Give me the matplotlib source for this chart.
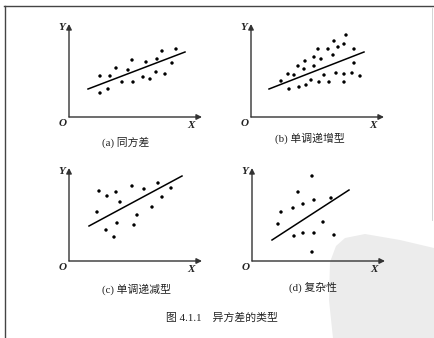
import matplotlib
matplotlib.use("Agg")
import matplotlib.pyplot as plt
from matplotlib.patches import Polygon
from matplotlib.lines import Line2D

# values (unit = 10 px, origin at the axes corner)
a_x = [3.1, 4.1, 4.7, 5.9, 6.3, 5.3, 6.4, 7.4, 7.7, 8.1, 8.7, 8.8, 9.3, 9.6, 10.3, 10.7, 3.1, 3.9]
a_y = [4.1, 4.1, 4.9, 4.7, 5.7, 3.5, 3.5, 4.0, 5.5, 3.8, 4.5, 5.8, 6.6, 4.3, 5.4, 6.8, 2.4, 2.8]
a_line_x = [1.9, 11.6]
a_line_y = [2.8, 6.5]

b_x = [3.0, 3.7, 4.3, 3.8, 4.8, 4.7, 5.3, 5.4, 5.5, 6.0, 6.3, 6.3, 6.8, 6.7, 7.0,
       7.3, 7.7, 7.8, 8.2, 8.3, 8.5, 8.7, 9.3, 9.3, 9.3, 9.5, 10.1, 10.3, 10.3, 10.9]
b_y = [3.6, 4.3, 4.2, 2.8, 3.0, 5.1, 4.8, 5.6, 3.2, 3.7, 6.0, 5.1, 3.5, 6.8, 5.8,
       4.2, 6.8, 3.5, 6.2, 7.6, 4.4, 7.0, 7.3, 4.3, 3.5, 8.2, 4.4, 5.4, 6.8, 4.1]
b_line_x = [1.8, 11.3]
b_line_y = [2.8, 6.5]

c_x = [3.0, 3.8, 4.7, 5.1, 6.3, 7.5, 8.9, 10.2, 9.3, 8.3, 6.8, 2.8, 4.8, 3.7, 6.5, 4.5]
c_y = [7.0, 6.5, 6.9, 5.9, 7.5, 7.2, 7.8, 7.3, 6.4, 5.4, 4.6, 4.9, 3.8, 3.1, 3.6, 2.4]
c_line_x = [2.0, 11.3]
c_line_y = [3.5, 8.5]

d_x = [6.0, 4.6, 2.9, 4.1, 5.1, 6.2, 7.9, 2.6, 7.1, 4.2, 5.1, 6.2, 8.2, 6.0]
d_y = [8.5, 6.9, 4.9, 5.3, 5.7, 6.1, 6.3, 3.7, 3.9, 2.5, 2.8, 2.8, 2.6, 0.9]
d_line_x = [2.0, 9.7]
d_line_y = [2.1, 7.1]

captions = ["(a) 同方差", "(b) 单调递增型", "(c) 单调递减型", "(d) 复杂性"]
title = "图 4.1.1    异方差的类型"

W, H = 434, 338
fig = plt.figure(figsize=(W / 100, H / 100), dpi=100)
fig.patch.set_facecolor("white")

serif_cjk = ["Liberation Serif", "Noto Sans CJK SC"]

# scanned-page watermark and frame
wm = Polygon([(345 / W, 1 - 238 / H), (365 / W, 1 - 234 / H), (400 / W, 1 - 240 / H),
              (1, 1 - 248 / H), (1, 0), (333 / W, 0), (329 / W, 1 - 300 / H),
              (330 / W, 1 - 262 / H), (336 / W, 1 - 246 / H)],
             closed=True, transform=fig.transFigure, facecolor="#ececec",
             edgecolor="none", zorder=-5)
fig.add_artist(wm)
fig.add_artist(Line2D([4 / W, 1], [1 - 6 / H, 1 - 6 / H], transform=fig.transFigure,
                      color="#444444", lw=1.0))
fig.add_artist(Line2D([5 / W, 5 / W], [0, 1 - 6 / H], transform=fig.transFigure,
                      color="#444444", lw=1.0))
fig.add_artist(Line2D([432 / W, 432 / W], [0.35, 1 - 8 / H], transform=fig.transFigure,
                      color="#cccccc", lw=0.6))


def panel(ox, oy, xs, ys, lx, ly):
    # axes placed so that data (0, 0) lands on pixel (ox, oy) measured from the top
    left = (ox - 20) / W
    bottom = (H - oy - 20) / H
    ax = fig.add_axes([left, bottom, 170 / W, 120 / H])
    ax.set_xlim(-2, 15)
    ax.set_ylim(-2, 10)
    ax.axis("off")
    ax.patch.set_alpha(0)
    arrow = dict(arrowstyle="-|>", mutation_scale=8, lw=1.0, color="#333333",
                 shrinkA=0, shrinkB=0)
    ax.annotate("", xy=(13.3, 0), xytext=(0, 0), arrowprops=arrow)
    ax.annotate("", xy=(0, 9.3), xytext=(0, 0), arrowprops=arrow)
    lab = dict(fontsize=8, family="Liberation Serif", style="italic",
               weight="bold", ha="center", va="center", color="#222222")
    ax.text(-0.7, 9.0, "Y", **lab)
    ax.text(-0.6, -0.7, "O", **lab)
    ax.text(12.2, -0.8, "X", **lab)
    ax.scatter(xs, ys, s=6, color="black", edgecolors="none")
    ax.plot(lx, ly, color="black", lw=1.1)
    return ax


panel(69, 117, a_x, a_y, a_line_x, a_line_y)
panel(251, 117, b_x, b_y, b_line_x, b_line_y)
panel(69, 261, c_x, c_y, c_line_x, c_line_y)
panel(252, 261, d_x, d_y, d_line_x, d_line_y)

cap_pos = [(126, 142), (310, 138), (136, 289), (313, 287)]
for (px, py), txt in zip(cap_pos, captions):
    fig.text(px / W, 1 - py / H, txt, fontsize=7.8, family=serif_cjk,
             ha="center", va="center", color="#222222")

fig.text(222 / W, 1 - 318 / H, title, fontsize=7.8, family=serif_cjk,
         ha="center", va="center", color="#222222")

fig.savefig("out.png", dpi=100)
